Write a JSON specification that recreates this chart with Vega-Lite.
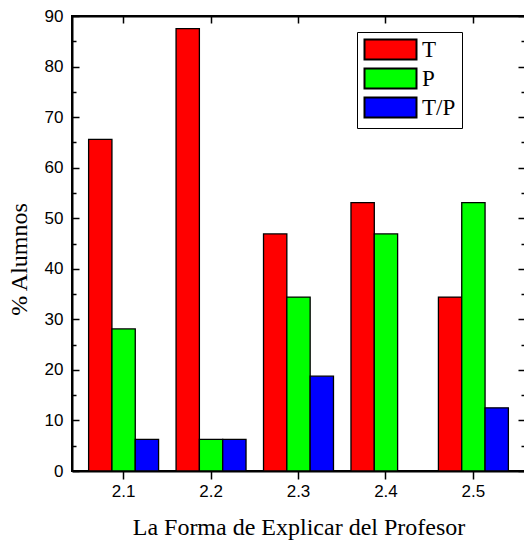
{
  "$schema": "https://vega.github.io/schema/vega-lite/v6.json",
  "width": 453,
  "height": 455,
  "autosize": {"type": "none"},
  "padding": {"left": 72, "top": 16, "right": 0, "bottom": 69},
  "background": "white",
  "data": {
    "values": [
      {"grupo": "2.1", "serie": "T", "pct": 65.6},
      {"grupo": "2.1", "serie": "P", "pct": 28.1},
      {"grupo": "2.1", "serie": "T/P", "pct": 6.25},
      {"grupo": "2.2", "serie": "T", "pct": 87.5},
      {"grupo": "2.2", "serie": "P", "pct": 6.25},
      {"grupo": "2.2", "serie": "T/P", "pct": 6.25},
      {"grupo": "2.3", "serie": "T", "pct": 46.9},
      {"grupo": "2.3", "serie": "P", "pct": 34.4},
      {"grupo": "2.3", "serie": "T/P", "pct": 18.75},
      {"grupo": "2.4", "serie": "T", "pct": 53.1},
      {"grupo": "2.4", "serie": "P", "pct": 46.9},
      {"grupo": "2.4", "serie": "T/P", "pct": 0},
      {"grupo": "2.5", "serie": "T", "pct": 34.4},
      {"grupo": "2.5", "serie": "P", "pct": 53.1},
      {"grupo": "2.5", "serie": "T/P", "pct": 12.5}
    ]
  },
  "encoding": {
    "x": {"field": "grupo", "type": "nominal", "scale": {"paddingInner": 0.2, "paddingOuter": 0.19}},
    "xOffset": {"field": "serie", "type": "nominal", "sort": ["T", "P", "T/P"], "scale": {"paddingInner": 0, "paddingOuter": 0}},
    "y": {"field": "pct", "type": "quantitative", "scale": {"domain": [0, 90], "nice": false, "zero": true}}
  },
  "layer": [
    {
      "mark": {"type": "bar", "stroke": "black", "strokeWidth": 1.3},
      "encoding": {
        "x": {"field": "grupo", "type": "nominal", "title": "La Forma de Explicar del Profesor",
          "axis": {"orient": "bottom", "labelAngle": 0, "domain": true, "domainColor": "black", "domainWidth": 2, "tickSize": 8, "tickWidth": 1.5, "tickColor": "black",
            "labelFont": "Liberation Sans", "labelFontSize": 17, "labelColor": "black", "labelPadding": 4,
            "titleFont": "Liberation Serif", "titleFontSize": 24, "titleFontWeight": "normal", "titleColor": "black", "titlePadding": 16}},
        "y": {"field": "pct", "type": "quantitative", "title": "% Alumnos",
          "axis": {"orient": "left", "values": [0, 10, 20, 30, 40, 50, 60, 70, 80, 90], "grid": false, "domain": true, "domainColor": "black", "domainWidth": 2, "tickSize": -7, "tickWidth": 1.5, "tickColor": "black",
            "labelFont": "Liberation Sans", "labelFontSize": 17, "labelColor": "black", "labelPadding": 16,
            "titleFont": "Liberation Serif", "titleFontSize": 24, "titleFontWeight": "normal", "titleColor": "black", "titlePadding": 13, "titleY": 243}},
        "color": {"field": "serie", "type": "nominal", "sort": ["T", "P", "T/P"], "title": null,
          "scale": {"domain": ["T", "P", "T/P"], "range": ["#ff0000", "#00ff00", "#0000ff"]},
          "legend": {"orient": "none", "legendX": 285, "legendY": 16,
            "symbolType": "M-1,-1H4.2V1H-1Z", "symbolSize": 400, "symbolStrokeColor": "black", "symbolStrokeWidth": 2, "symbolOpacity": 1,
            "labelFont": "Liberation Serif", "labelFontSize": 23, "labelColor": "black", "labelOffset": 36,
            "strokeColor": "black", "fillColor": "white", "padding": 6, "rowPadding": 0, "columnPadding": 0, "symbolOffset": 0}}
      }
    },
    {
      "mark": {"type": "bar", "opacity": 0},
      "encoding": {
        "x": {"field": "grupo", "type": "nominal", "axis": {"orient": "top", "labels": false, "title": null, "domain": true, "domainColor": "black", "domainWidth": 2, "tickSize": -7, "tickWidth": 1.5, "tickColor": "black"}},
        "y": {"field": "pct", "type": "quantitative", "axis": {"orient": "left", "values": [5, 15, 25, 35, 45, 55, 65, 75, 85], "labels": false, "title": null, "domain": false, "grid": false, "tickSize": -4, "tickWidth": 1.5, "tickColor": "black"}}
      }
    },
    {
      "mark": {"type": "bar", "opacity": 0},
      "encoding": {
        "x": {"field": "grupo", "type": "nominal", "axis": null},
        "y": {"field": "pct", "type": "quantitative", "axis": {"orient": "right", "values": [0, 10, 20, 30, 40, 50, 60, 70, 80, 90], "labels": false, "title": null, "domain": false, "grid": false, "tickSize": -7, "tickWidth": 1.5, "tickColor": "black"}}
      }
    },
    {
      "mark": {"type": "bar", "opacity": 0},
      "encoding": {
        "x": {"field": "grupo", "type": "nominal", "axis": null},
        "y": {"field": "pct", "type": "quantitative", "axis": {"orient": "right", "values": [5, 15, 25, 35, 45, 55, 65, 75, 85], "labels": false, "title": null, "domain": false, "grid": false, "tickSize": -4, "tickWidth": 1.5, "tickColor": "black"}}
      }
    }
  ],
  "resolve": {"axis": {"x": "independent", "y": "independent"}},
  "config": {"view": {"stroke": "black", "strokeWidth": 2}, "axis": {"grid": false}}
}
